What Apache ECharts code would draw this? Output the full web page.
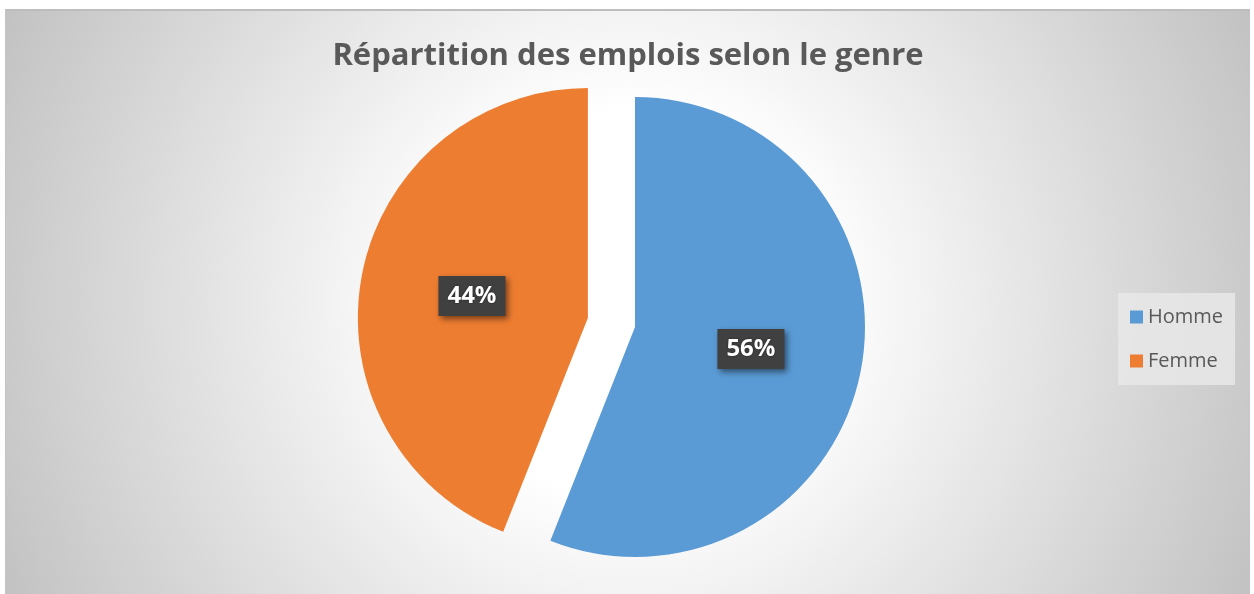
<!DOCTYPE html>
<html>
<head>
<meta charset="utf-8">
<script src="https://cdn.jsdelivr.net/npm/echarts@6/dist/echarts.min.js"></script>
<style>
  html, body { margin: 0; padding: 0; background: #fff; }
  #main {
    position: absolute; left: 5px; top: 9px; width: 1245px; height: 585px;
    box-sizing: border-box;
    border-top: 2px solid #bdbdbd; border-left: 1px solid #c4c4c4;
    background: radial-gradient(circle farthest-corner at 50% 50%, #ffffff 0%, #ffffff 28%, #c2c2c2 100%);
  }
</style>
</head>
<body>
<div id="main"></div>
<script>
// données
var categories = ['Homme', 'Femme'];
var values = [56, 44];
var colors = ['#5B9BD5', '#ED7D31'];
var title = 'Répartition des emplois selon le genre';

var myChart = echarts.init(document.getElementById('main'));

var seriesData = categories.map(function (name, i) {
  return {
    name: name,
    value: values[i],
    itemStyle: { color: colors[i] },
    selected: name === 'Femme'   // part détachée
  };
});

var option = {
  backgroundColor: 'transparent',
  title: {
    text: title,
    left: 'center',
    top: 25,
    textStyle: {
      fontFamily: 'Open Sans',
      fontWeight: 'bold',
      fontSize: 31,
      color: '#595959'
    }
  },
  legend: {
    orient: 'vertical',
    left: 1112,
    top: 282,
    padding: [14, 12, 14, 12],
    itemGap: 24,
    itemWidth: 13,
    itemHeight: 13,
    icon: 'rect',
    backgroundColor: 'rgba(232,232,232,0.85)',
    data: categories,
    textStyle: {
      fontFamily: 'Open Sans',
      fontSize: 20,
      color: '#595959'
    }
  },
  series: [
    {
      type: 'pie',
      center: [629, 316],
      radius: 230,
      startAngle: 90,
      selectedMode: 'single',
      selectedOffset: 48,
      animation: false,
      label: {
        show: true,
        position: 'inside',
        formatter: function (p) { return p.value + '%'; },
        fontFamily: 'Open Sans',
        fontWeight: 'bold',
        fontSize: 24,
        color: '#ffffff',
        backgroundColor: '#404040',
        padding: [9, 9, 7, 9],
        shadowColor: 'rgba(0,0,0,0.5)',
        shadowBlur: 6,
        shadowOffsetX: 3,
        shadowOffsetY: 3,
        textShadowColor: 'rgba(0,0,0,0.6)',
        textShadowBlur: 2
      },
      labelLine: { show: false },
      emphasis: { disabled: true },
      data: seriesData
    }
  ]
};

myChart.setOption(option);
</script>
</body>
</html>
